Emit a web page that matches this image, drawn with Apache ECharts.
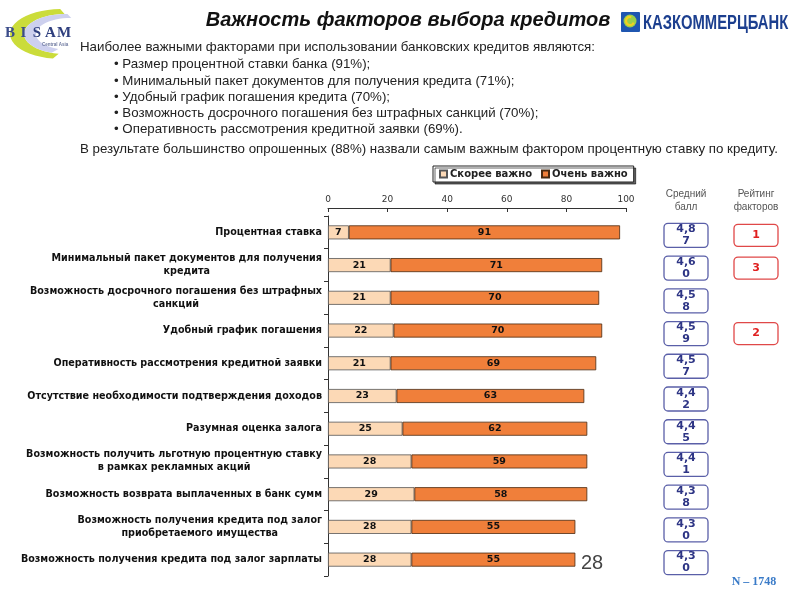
<!DOCTYPE html>
<html><head><meta charset="utf-8">
<script src="https://cdn.jsdelivr.net/npm/echarts@6/dist/echarts.min.js"></script>
<style>html,body{margin:0;padding:0;background:#fff}#c{width:800px;height:600px}</style>
</head><body><div id="c"></div>
<script>
const categories = [
  "Процентная ставка",
  "Минимальный пакет документов для получения\nкредита",
  "Возможность досрочного погашения без штрафных\nсанкций",
  "Удобный график погашения",
  "Оперативность рассмотрения кредитной заявки",
  "Отсутствие необходимости подтверждения доходов",
  "Разумная оценка залога",
  "Возможность получить льготную процентную ставку\nв рамках рекламных акций",
  "Возможность возврата выплаченных в банк сумм",
  "Возможность получения кредита под залог\nприобретаемого имущества",
  "Возможность получения кредита под залог зарплаты"
];
const somewhatImportant = [7, 21, 21, 22, 21, 23, 25, 28, 29, 28, 28];
const veryImportant = [91, 71, 70, 70, 69, 63, 62, 59, 58, 55, 55];
const avgScores = [4.87, 4.60, 4.58, 4.59, 4.57, 4.42, 4.45, 4.41, 4.38, 4.30, 4.30];
const ratings = [1, 3, null, 2, null, null, null, null, null, null, null];
const xTicks = [0, 20, 40, 60, 80, 100];
const seriesNames = ["Скорее важно", "Очень важно"];

const chart = echarts.init(document.getElementById('c'), null, {renderer: 'canvas'});
const labelFont = 'DejaVu Sans';
const bodyFont = '13.3px Liberation Sans';

// crescent outline for the BISAM logo (decoration only)
function crescent(o, i, a0, a1) {
  const pts = [];
  const n = 24;
  for (let k = 0; k <= n; k++) {
    const a = (a0 + (a1 - a0) * k / n) * Math.PI / 180;
    pts.push([o.cx + o.rx * Math.cos(a), o.cy + o.ry * Math.sin(a)]);
  }
  for (let k = n; k >= 0; k--) {
    const a = (a0 + (a1 - a0) * k / n) * Math.PI / 180;
    pts.push([i.cx + i.rx * Math.cos(a), i.cy + i.ry * Math.sin(a)]);
  }
  return pts;
}

function badgeSeries(name, values, x, w, h, stroke, color, font, fmt) {
  return {
    type: 'custom', name: name, z: 5,
    data: values.map((v, i) => [0, i, v]).filter(d => d[2] !== null),
    encode: {x: 0, y: 1},
    renderItem: function (params, api) {
      const y = api.coord([0, api.value(1)])[1] + 3;
      const v = api.value(2);
      return {
        type: 'group', children: [
          {type: 'rect', shape: {x: x, y: y - h / 2, width: w, height: h, r: 4},
           style: {fill: '#fff', stroke: stroke, lineWidth: 1.3}},
          {type: 'text', x: x + w / 2, y: y, style: {text: fmt(v), align: 'center', verticalAlign: 'middle',
            fill: color, font: font, lineHeight: 12}}
        ]
      };
    }
  };
}

const logoLetters = 'BISAM'.split('').map((ch, k) => ({
  type: 'text', x: 10 + k * 13.5, y: 33,
  style: {text: ch, font: 'bold 15px Liberation Serif', fill: k < 2 ? '#3b4c8a' : '#2f3f7e', align: 'center', verticalAlign: 'middle'}
}));

const option = {
  backgroundColor: '#fff',
  animation: false,
  title: {
    text: 'Важность факторов выбора кредитов',
    left: 403, top: 5, textAlign: 'center',
    textStyle: {fontFamily: 'Liberation Sans', fontStyle: 'italic', fontWeight: 'bold', fontSize: 20, color: '#111'}
  },
  legend: {
    data: seriesNames,
    left: 433, top: 166,
    orient: 'horizontal',
    itemWidth: 7, itemHeight: 7, itemGap: 9,
    padding: [3, 6, 3, 6],
    borderColor: '#222', borderWidth: 1,
    shadowColor: 'rgba(0,0,0,0.6)', shadowOffsetX: 2, shadowOffsetY: 2, shadowBlur: 0,
    backgroundColor: '#fff',
    textStyle: {fontFamily: labelFont, fontWeight: 'bold', fontSize: 10, color: '#222', padding: [0, 0, 0, -2]},
    icon: 'rect'
  },
  grid: {left: 328, top: 216, width: 298, height: 360},
  xAxis: {
    type: 'value', position: 'top', offset: 8,
    min: 0, max: 100, interval: 20,
    axisLine: {show: true, lineStyle: {color: '#333', width: 1}},
    axisTick: {show: true, inside: true, length: 4, lineStyle: {color: '#333'}},
    splitLine: {show: false},
    axisLabel: {fontFamily: labelFont, fontSize: 9, color: '#333', margin: 4,
      formatter: v => xTicks.includes(v) ? String(v) : ''}
  },
  yAxis: {
    type: 'category', inverse: true, data: categories,
    axisLine: {show: true, lineStyle: {color: '#333', width: 1}},
    axisTick: {show: true, length: 4, lineStyle: {color: '#333'}},
    axisLabel: {
      margin: 6,
      formatter: v => v.split('\n').map(l => '{c|' + l + '}').join('\n'),
      rich: {c: {align: 'center', fontFamily: labelFont, fontWeight: 'bold', fontSize: 9.6, color: '#111', lineHeight: 13}}
    }
  },
  series: [
    {
      name: seriesNames[0], type: 'bar', stack: 'total', barWidth: 14,
      data: somewhatImportant,
      itemStyle: {color: '#FCD9B6', borderColor: '#555', borderWidth: 0.8},
      label: {show: true, position: 'inside', color: '#111', fontFamily: labelFont, fontWeight: 'bold', fontSize: 9.5}
    },
    {
      name: seriesNames[1], type: 'bar', stack: 'total', barWidth: 14,
      data: veryImportant,
      itemStyle: {color: '#F07F3A', borderColor: '#4a2a10', borderWidth: 0.8},
      label: {show: true, position: 'inside', color: '#111', fontFamily: labelFont, fontWeight: 'bold', fontSize: 9.5}
    },
    badgeSeries('avg', avgScores, 664, 44, 24, '#5a5fa8', '#2e3585', 'bold 11px DejaVu Sans', v => {
      const s = v.toFixed(2).replace('.', ',');
      return s.slice(0, 3) + '\n' + s.slice(3);
    }),
    badgeSeries('rating', ratings, 734, 44, 22, '#e04848', '#e02020', 'bold 11px DejaVu Sans', v => String(v))
  ],
  graphic: [
    // BISAM logo
    {type: 'polygon', shape: {points: crescent({cx: 62, cy: 34, rx: 52, ry: 25}, {cx: 66, cy: 34, rx: 42, ry: 20}, 100, 268)},
     style: {fill: '#cbdc3a'}},
    {type: 'polygon', shape: {points: crescent({cx: 66, cy: 34, rx: 42, ry: 20}, {cx: 70, cy: 34, rx: 34, ry: 16}, 110, 272)},
     style: {fill: '#cdd0ee'}},
    ...logoLetters,
    {type: 'text', x: 42, y: 42, style: {text: 'Central Asia', font: 'bold 4.5px Liberation Sans', fill: '#6f7aa0'}},
    // Kazkommertsbank logo
    {type: 'rect', shape: {x: 621, y: 12, width: 19, height: 20, r: 1}, style: {fill: '#1f56b0'}},
    {type: 'circle', shape: {cx: 630, cy: 21, r: 6.5}, style: {fill: '#9bd04a'}},
    {type: 'arc', shape: {cx: 630, cy: 21, r: 4, startAngle: 0.4, endAngle: Math.PI * 1.6},
     style: {stroke: '#f5d020', lineWidth: 2.2, fill: null}},
    {type: 'text', x: 643, y: 23, scaleX: 0.74, style: {text: 'КАЗКОММЕРЦБАНК', font: 'bold 20px Liberation Sans', fill: '#1c3f8f', verticalAlign: 'middle'}},
    // Intro text
    {type: 'text', x: 80, y: 47, style: {text: 'Наиболее важными факторами при использовании банковских кредитов являются:', font: bodyFont, fill: '#222', verticalAlign: 'middle'}},
    {type: 'text', x: 114, y: 64, style: {text: '• Размер процентной ставки банка (91%);', font: bodyFont, fill: '#222', verticalAlign: 'middle'}},
    {type: 'text', x: 114, y: 81, style: {text: '• Минимальный пакет документов для получения кредита (71%);', font: bodyFont, fill: '#222', verticalAlign: 'middle'}},
    {type: 'text', x: 114, y: 97, style: {text: '• Удобный график погашения кредита (70%);', font: bodyFont, fill: '#222', verticalAlign: 'middle'}},
    {type: 'text', x: 114, y: 113, style: {text: '• Возможность досрочного погашения без штрафных санкций (70%);', font: bodyFont, fill: '#222', verticalAlign: 'middle'}},
    {type: 'text', x: 114, y: 129, style: {text: '• Оперативность рассмотрения кредитной заявки (69%).', font: bodyFont, fill: '#222', verticalAlign: 'middle'}},
    {type: 'text', x: 80, y: 149, style: {text: 'В результате большинство опрошенных (88%) назвали самым важным фактором процентную ставку по кредиту.', font: bodyFont, fill: '#222', verticalAlign: 'middle'}},
    // Column headers
    {type: 'text', x: 686, y: 201, style: {text: 'Средний\nбалл', font: '10px Liberation Sans', fill: '#555', align: 'center', verticalAlign: 'middle', lineHeight: 13}},
    {type: 'text', x: 756, y: 201, style: {text: 'Рейтинг\nфакторов', font: '10px Liberation Sans', fill: '#555', align: 'center', verticalAlign: 'middle', lineHeight: 13}},
    // Sample size & slide number
    {type: 'text', x: 754, y: 582, style: {text: 'N – 1748', font: 'bold 12px Liberation Serif', fill: '#3a7bc8', align: 'center', verticalAlign: 'middle'}},
    {type: 'text', x: 592, y: 563, style: {text: '28', font: '20px Liberation Sans', fill: '#444', align: 'center', verticalAlign: 'middle'}}
  ]
};
chart.setOption(option);
</script></body></html>
